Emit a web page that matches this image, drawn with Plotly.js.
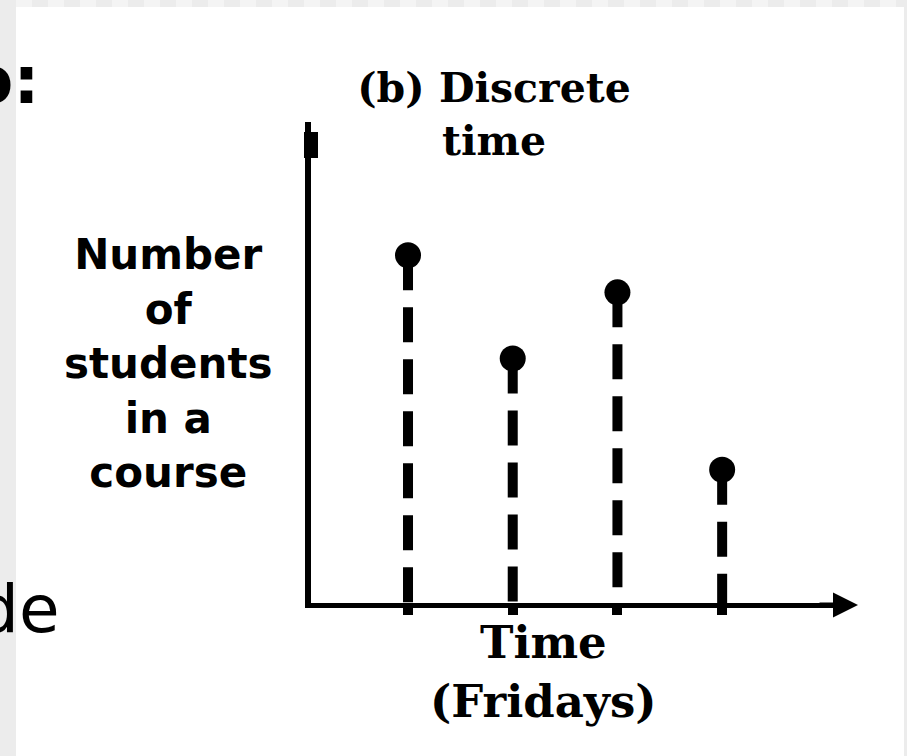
<!DOCTYPE html>
<html>
<head>
<meta charset="utf-8">
<script src="https://cdn.plot.ly/plotly-3.0.1.min.js"></script>
<style>
  html, body { margin: 0; padding: 0; background: #ffffff; }
  #chart { width: 907px; height: 756px; }
</style>
</head>
<body>
<div id="chart"></div>
<script>
// ---- data ----
const fridays = [1, 2, 3, 4];
const students = [34.7, 24.4, 31.0, 13.3];
const titleText = '(b) Discrete<br>time';
const yLabel = 'Number<br>of<br>students<br>in a<br>course';
const xLabel = 'Time<br>(Fridays)';

// ---- layout geometry ----
const W = 907, H = 756;
const M = { l: 311, r: 57, t: 122, b: 153 };
const PW = W - M.l - M.r, PH = H - M.t - M.b;
const px2x = p => (p - M.l) / PW;
const py2y = p => (H - M.b - p) / PH;

const serif = 'DejaVu Serif, Liberation Serif, serif';
const sans = 'DejaVu Sans, Liberation Sans, sans-serif';

const traces = [];
fridays.forEach((f, i) => {
  traces.push({
    type: 'scatter', mode: 'lines',
    x: [f, f], y: [students[i], 0],
    line: { color: '#000', width: 10, dash: '35px,17px' },
    hoverinfo: 'skip', showlegend: false
  });
});
traces.push({
  type: 'scatter', mode: 'markers',
  x: fridays, y: students,
  marker: { color: '#000', size: 26, symbol: 'circle' },
  showlegend: false, cliponaxis: false
});

// decorative frame bands
const shapes = [];
shapes.push({ type: 'rect', xref: 'paper', yref: 'paper', layer: 'below',
  x0: px2x(0), x1: px2x(16), y0: py2y(756), y1: py2y(0),
  fillcolor: '#ececec', line: { width: 0 } });
shapes.push({ type: 'rect', xref: 'paper', yref: 'paper', layer: 'below',
  x0: px2x(904), x1: px2x(907), y0: py2y(756), y1: py2y(0),
  fillcolor: '#ececec', line: { width: 0 } });
for (let xs = 16, k = 0; xs < W; xs += 16, k++) {
  shapes.push({ type: 'rect', xref: 'paper', yref: 'paper', layer: 'below',
    x0: px2x(xs), x1: px2x(Math.min(xs + 16, W)), y0: py2y(7), y1: py2y(0),
    fillcolor: k % 2 === 0 ? '#f4f4f4' : '#ececec', line: { width: 0 } });
}
// small nub near the top of the vertical axis
shapes.push({ type: 'rect', xref: 'paper', yref: 'paper',
  x0: px2x(304), x1: px2x(318), y0: py2y(158), y1: py2y(132),
  fillcolor: '#000', line: { width: 0 } });

const annotations = [
  { xref: 'paper', yref: 'paper', x: px2x(168), y: py2y(228),
    xanchor: 'center', yanchor: 'top', align: 'center', showarrow: false,
    text: yLabel, font: { family: sans, size: 42, color: '#000', weight: 'bold' } },
  { xref: 'paper', yref: 'paper', x: px2x(543), y: py2y(614),
    xanchor: 'center', yanchor: 'top', align: 'center', showarrow: false,
    text: xLabel, font: { family: serif, size: 45, color: '#000', weight: 'bold' } },
  { xref: 'paper', yref: 'paper', x: px2x(42), y: py2y(80),
    xanchor: 'right', yanchor: 'middle', showarrow: false,
    text: 'o:', font: { family: sans, size: 66, color: '#000', weight: 'bold' } },
  { xref: 'paper', yref: 'paper', x: px2x(62), y: py2y(609),
    xanchor: 'right', yanchor: 'middle', showarrow: false,
    text: 'de', font: { family: sans, size: 66, color: '#000' } },
  { xref: 'paper', yref: 'paper', x: px2x(858), y: py2y(605),
    ax: -40, ay: 0, text: '', showarrow: true,
    arrowhead: 2, arrowsize: 1.0, arrowwidth: 5, arrowcolor: '#000' }
];

const layout = {
  width: W, height: H,
  margin: M,
  paper_bgcolor: 'rgba(0,0,0,0)',
  plot_bgcolor: 'rgba(0,0,0,0)',
  title: { text: titleText, xref: 'container', yref: 'container',
    x: 494 / W, xanchor: 'center', y: 1 - 102 / H, yanchor: 'top',
    font: { family: serif, size: 41, color: '#000', weight: 'bold' } },
  xaxis: { range: [0.0735, 5.221], showgrid: false, zeroline: false,
    showline: true, linecolor: '#000', linewidth: 5,
    tickvals: fridays, ticks: 'outside', ticklen: 7, tickwidth: 10, tickcolor: '#000',
    showticklabels: false, fixedrange: true },
  yaxis: { range: [0, 48], showgrid: false, zeroline: false,
    showline: true, linecolor: '#000', linewidth: 6,
    ticks: '', showticklabels: false, fixedrange: true },
  shapes: shapes,
  annotations: annotations,
  showlegend: false
};

Plotly.newPlot('chart', traces, layout, { staticPlot: true, displayModeBar: false });
</script>
</body>
</html>
